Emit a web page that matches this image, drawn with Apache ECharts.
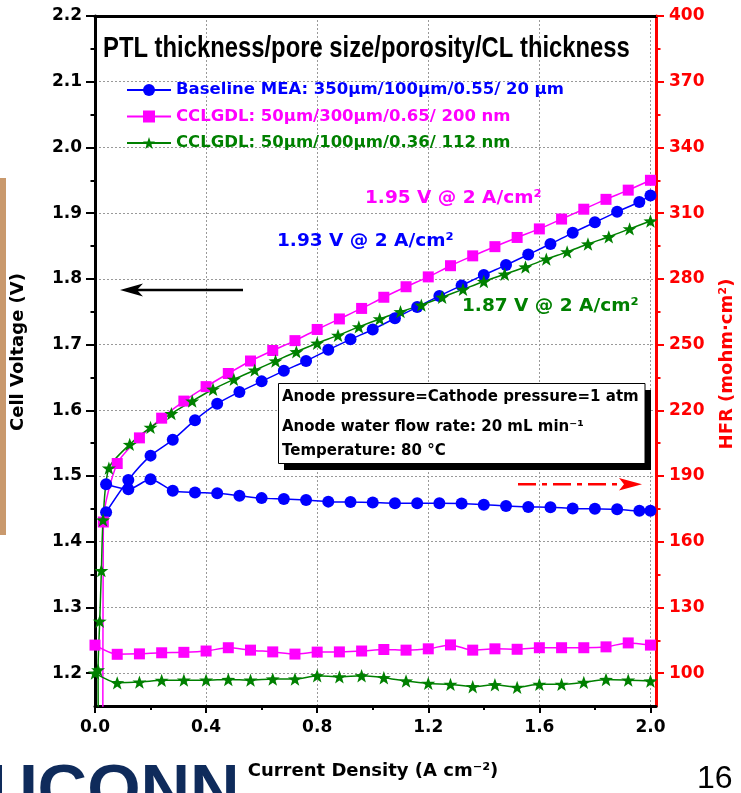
<!DOCTYPE html>
<html><head><meta charset="utf-8">
<script src="https://cdn.jsdelivr.net/npm/echarts/dist/echarts.min.js"></script>
<style>html,body{margin:0;padding:0;background:#fff}#c{width:741px;height:793px}</style>
</head><body><div id="c"></div>
<script>
// ---- tick values ----
const xTicks = [0.0, 0.4, 0.8, 1.2, 1.6, 2.0];
const xMinorTicks = [0.2, 0.6, 1.0, 1.4, 1.8];
const vTicks = [1.2, 1.3, 1.4, 1.5, 1.6, 1.7, 1.8, 1.9, 2.0, 2.1, 2.2];
const vMinorTicks = [1.25, 1.35, 1.45, 1.55, 1.65, 1.75, 1.85, 1.95, 2.05, 2.15];
const hfrTicks = [100, 130, 160, 190, 220, 250, 280, 310, 340, 370, 400];
const hfrMinorTicks = [115, 145, 175, 205, 235, 265, 295, 325, 355, 385];

// ---- legend names ----
const names = [
  'Baseline MEA: 350\u03bcm/100\u03bcm/0.55/ 20 \u03bcm',
  'CCLGDL: 50\u03bcm/300\u03bcm/0.65/ 200 nm',
  'CCLGDL: 50\u03bcm/100\u03bcm/0.36/ 112 nm'
];

// ---- Baseline MEA (blue) ----
const baseJ = [0.04, 0.12, 0.2, 0.28, 0.36, 0.44, 0.52, 0.6, 0.68, 0.76, 0.84, 0.92, 1.0, 1.08, 1.16, 1.24, 1.32, 1.4, 1.48, 1.56, 1.64, 1.72, 1.8, 1.88, 1.96, 2.0];
const baseV = [1.445, 1.494, 1.531, 1.555, 1.585, 1.610, 1.628, 1.644, 1.660, 1.675, 1.692, 1.708, 1.723, 1.740, 1.757, 1.774, 1.790, 1.806, 1.821, 1.837, 1.853, 1.870, 1.886, 1.902, 1.917, 1.927];
const baseHFR = [186.2, 183.9, 188.5, 183.3, 182.5, 182.1, 181.0, 179.9, 179.5, 179.0, 178.3, 178.1, 177.9, 177.6, 177.6, 177.6, 177.4, 176.9, 176.3, 175.9, 175.7, 175.2, 175.0, 174.8, 174.1, 174.1];

// ---- CCLGDL 300um pore (magenta) ----
const magJ = [0.028, 0.03, 0.08, 0.16, 0.24, 0.32, 0.40, 0.48, 0.56, 0.64, 0.72, 0.80, 0.88, 0.96, 1.04, 1.12, 1.20, 1.28, 1.36, 1.44, 1.52, 1.60, 1.68, 1.76, 1.84, 1.92, 2.00];
const magV = [1.00, 1.43, 1.519, 1.558, 1.588, 1.614, 1.636, 1.656, 1.675, 1.691, 1.706, 1.723, 1.739, 1.755, 1.772, 1.788, 1.803, 1.820, 1.835, 1.849, 1.863, 1.876, 1.891, 1.906, 1.921, 1.935, 1.950];
const magHfrJ = [0.0, 0.08, 0.16, 0.24, 0.32, 0.40, 0.48, 0.56, 0.64, 0.72, 0.80, 0.88, 0.96, 1.04, 1.12, 1.20, 1.28, 1.36, 1.44, 1.52, 1.60, 1.68, 1.76, 1.84, 1.92, 2.00];
const magHFR = [112.8, 108.6, 108.8, 109.3, 109.5, 110.1, 111.6, 110.5, 109.7, 108.7, 109.6, 109.7, 110.1, 110.8, 110.5, 111.1, 112.9, 110.5, 111.1, 110.9, 111.6, 111.6, 111.6, 112.0, 113.8, 112.8];

// ---- CCLGDL 100um pore (green) ----
const grnJ = [0.013, 0.011, 0.017, 0.023, 0.029, 0.05, 0.125, 0.2, 0.275, 0.35, 0.425, 0.5, 0.575, 0.65, 0.725, 0.8, 0.875, 0.95, 1.025, 1.1, 1.175, 1.25, 1.325, 1.4, 1.475, 1.55, 1.625, 1.7, 1.775, 1.85, 1.925, 2.0];
const grnV = [1.00, 1.205, 1.279, 1.356, 1.433, 1.512, 1.548, 1.574, 1.595, 1.614, 1.632, 1.647, 1.661, 1.675, 1.689, 1.702, 1.714, 1.727, 1.739, 1.750, 1.760, 1.772, 1.784, 1.796, 1.807, 1.818, 1.830, 1.841, 1.853, 1.864, 1.876, 1.888];
const grnHfrJ = [0.0, 0.08, 0.16, 0.24, 0.32, 0.40, 0.48, 0.56, 0.64, 0.72, 0.80, 0.88, 0.96, 1.04, 1.12, 1.20, 1.28, 1.36, 1.44, 1.52, 1.60, 1.68, 1.76, 1.84, 1.92, 2.00];
const grnHFR = [100.0, 95.6, 95.9, 96.7, 96.8, 96.8, 97.1, 96.8, 97.3, 97.3, 98.8, 98.3, 98.8, 97.9, 96.4, 95.3, 94.9, 93.8, 94.7, 93.5, 94.9, 94.9, 95.8, 97.1, 96.8, 96.4];

const zip = (a, b) => a.map((v, i) => [v, b[i]]);

const BLUE = '#0000FF', MAG = '#FF00FF', GRN = '#008000', RED = '#FF0000';
const FONT = 'DejaVu Sans';
const STAR = 'path://M50,0 L61.8,33.8 L97.6,34.5 L69.1,56.2 L79.4,90.5 L50,70 L20.6,90.5 L30.9,56.2 L2.4,34.5 L38.2,33.8 Z';

function mkSeries(name, j, v, yIdx, color, symbol, size) {
  return {
    name: name, type: 'line', xAxisIndex: 0, yAxisIndex: yIdx,
    data: zip(j, v), symbol: symbol, symbolSize: size, symbolKeepAspect: true,
    smooth: 0.25, clip: true, showAllSymbol: true,
    lineStyle: { color: color, width: 1.5 },
    itemStyle: { color: color, borderWidth: 0 },
    emphasis: { disabled: true }
  };
}

const labelStyle = { fontFamily: FONT, fontWeight: 'bold', fontSize: 17, color: '#000' };
const G = { left: 95, right: 85, top: 16, bottom: 87, containLabel: false };

const option = {
  animation: false,
  grid: [Object.assign({}, G), Object.assign({}, G)],
  legend: {
    orient: 'vertical', left: 126, top: 81, padding: 0,
    itemWidth: 44, itemHeight: 15, itemGap: 8.5,
    textStyle: { fontFamily: FONT, fontWeight: 'bold', fontSize: 16.5, lineHeight: 18 },
    data: [
      { name: names[0], textStyle: { color: BLUE } },
      { name: names[1], textStyle: { color: MAG } },
      { name: names[2], textStyle: { color: GRN } }
    ]
  },
  xAxis: [
    {
      type: 'value', gridIndex: 0, position: 'bottom', min: 0, max: 2.02,
      axisLine: { onZero: false, lineStyle: { color: '#000', width: 3 } },
      axisTick: { customValues: xTicks, length: 7, lineStyle: { color: '#000', width: 2 } },
      axisLabel: Object.assign({ customValues: xTicks, margin: 13, formatter: v => v.toFixed(1) }, labelStyle),
      splitLine: { show: true, lineStyle: { color: '#999', width: 1, type: [2, 2] } }
    },
    {
      type: 'value', gridIndex: 0, position: 'top', min: 0, max: 2.02,
      axisLine: { onZero: false, lineStyle: { color: '#000', width: 3 } },
      axisTick: { show: false }, axisLabel: { show: false }, splitLine: { show: false }
    },
    {
      type: 'value', gridIndex: 1, position: 'bottom', min: 0, max: 2.02,
      axisLine: { show: false, onZero: false },
      axisTick: { customValues: xMinorTicks, length: 4, lineStyle: { color: '#000', width: 2 } },
      axisLabel: { show: false }, splitLine: { show: false }
    }
  ],
  yAxis: [
    {
      type: 'value', gridIndex: 0, position: 'left', min: 1.15, max: 2.2,
      axisLine: { show: true, onZero: false, lineStyle: { color: '#000', width: 3 } },
      axisTick: { show: true, customValues: vTicks, length: 9, lineStyle: { color: '#000', width: 2 } },
      axisLabel: Object.assign({ customValues: vTicks, margin: 13, formatter: v => v.toFixed(1) }, labelStyle),
      splitLine: { show: true, lineStyle: { color: '#999', width: 1, type: [2, 2] } }
    },
    {
      type: 'value', gridIndex: 0, position: 'right', min: 85, max: 400,
      axisLine: { show: true, onZero: false, lineStyle: { color: RED, width: 3 } },
      axisTick: { show: true, customValues: hfrTicks, length: 8, lineStyle: { color: RED, width: 2 } },
      axisLabel: Object.assign({ customValues: hfrTicks, margin: 13 }, labelStyle, { color: RED }),
      splitLine: { show: false }
    },
    {
      type: 'value', gridIndex: 1, position: 'left', min: 1.15, max: 2.2,
      axisLine: { show: false, onZero: false },
      axisTick: { show: true, customValues: vMinorTicks, length: 4.5, lineStyle: { color: '#000', width: 2 } },
      axisLabel: { show: false }, splitLine: { show: false }
    },
    {
      type: 'value', gridIndex: 1, position: 'right', min: 85, max: 400,
      axisLine: { show: false, onZero: false },
      axisTick: { show: true, customValues: hfrMinorTicks, length: 4.5, lineStyle: { color: RED, width: 2 } },
      axisLabel: { show: false }, splitLine: { show: false }
    }
  ],
  series: [
    mkSeries(names[0], baseJ, baseV, 0, BLUE, 'circle', 12),
    mkSeries(names[1], magJ, magV, 0, MAG, 'rect', 11),
    mkSeries(names[2], grnJ, grnV, 0, GRN, STAR, 14),
    mkSeries(names[0], baseJ, baseHFR, 1, BLUE, 'circle', 12),
    mkSeries(names[1], magHfrJ, magHFR, 1, MAG, 'rect', 11),
    mkSeries(names[2], grnHfrJ, grnHFR, 1, GRN, STAR, 14)
  ],
  graphic: [
    { type: 'rect', z: 10, silent: true, shape: { x: 0, y: 178, width: 6, height: 357 }, style: { fill: '#C9996D' } },
    { type: 'text', z: 10, silent: true, x: 103, y: 49, scaleX: 0.794,
      style: { text: 'PTL thickness/pore size/porosity/CL thickness', font: 'bold 30px "Liberation Sans"', fill: '#000', textVerticalAlign: 'middle' } },
    { type: 'text', z: 10, silent: true, x: 365, y: 198,
      style: { text: '1.95 V @ 2 A/cm\u00b2', font: 'bold 18.5px "DejaVu Sans"', fill: MAG, textVerticalAlign: 'middle' } },
    { type: 'text', z: 10, silent: true, x: 277, y: 241,
      style: { text: '1.93 V @ 2 A/cm\u00b2', font: 'bold 18.5px "DejaVu Sans"', fill: BLUE, textVerticalAlign: 'middle' } },
    { type: 'text', z: 10, silent: true, x: 462, y: 306,
      style: { text: '1.87 V @ 2 A/cm\u00b2', font: 'bold 18.5px "DejaVu Sans"', fill: GRN, textVerticalAlign: 'middle' } },
    { type: 'rect', z: 10, silent: true, shape: { x: 284, y: 390, width: 367, height: 80 }, style: { fill: '#000' } },
    { type: 'rect', z: 11, silent: true, shape: { x: 278.5, y: 383.5, width: 366.5, height: 80 }, style: { fill: '#fff', stroke: '#000', lineWidth: 1 } },
    { type: 'text', z: 12, silent: true, x: 282, y: 397,
      style: { text: 'Anode pressure=Cathode pressure=1 atm', font: 'bold 15px "DejaVu Sans"', fill: '#000', textVerticalAlign: 'middle' } },
    { type: 'text', z: 12, silent: true, x: 282, y: 427,
      style: { text: 'Anode water flow rate: 20 mL min\u207b\u00b9', font: 'bold 15px "DejaVu Sans"', fill: '#000', textVerticalAlign: 'middle' } },
    { type: 'text', z: 12, silent: true, x: 282, y: 451,
      style: { text: 'Temperature: 80 \u00b0C', font: 'bold 15px "DejaVu Sans"', fill: '#000', textVerticalAlign: 'middle' } },
    { type: 'line', z: 10, silent: true, shape: { x1: 243, y1: 290, x2: 134, y2: 290 }, style: { stroke: '#000', lineWidth: 2.5 } },
    { type: 'polygon', z: 10, silent: true, shape: { points: [[120, 290], [143, 283.5], [137, 290], [143, 296.5]] }, style: { fill: '#000' } },
    { type: 'line', z: 10, silent: true, shape: { x1: 518, y1: 484.3, x2: 622, y2: 484.3 }, style: { stroke: RED, lineWidth: 2.5, lineDash: [18, 6, 5, 6] } },
    { type: 'polygon', z: 10, silent: true, shape: { points: [[642, 484.3], [619, 478], [624, 484.3], [619, 490.6]] }, style: { fill: RED } },
    { type: 'text', z: 10, silent: true, x: 18, y: 352, rotation: Math.PI / 2,
      style: { text: 'Cell Voltage (V)', font: 'bold 18px "DejaVu Sans"', fill: '#000', textAlign: 'center', textVerticalAlign: 'middle' } },
    { type: 'text', z: 10, silent: true, x: 727, y: 364, rotation: Math.PI / 2,
      style: { text: 'HFR (mohm\u00b7cm\u00b2)', font: 'bold 18px "DejaVu Sans"', fill: RED, textAlign: 'center', textVerticalAlign: 'middle' } },
    { type: 'text', z: 10, silent: true, x: 373, y: 771,
      style: { text: 'Current Density (A cm\u207b\u00b2)', font: 'bold 18px "DejaVu Sans"', fill: '#000', textAlign: 'center', textVerticalAlign: 'middle' } },
    { type: 'text', z: 10, silent: true, x: -12, y: 760, scaleX: 1.04,
      style: { text: 'UCONN', font: 'bold 66px "Liberation Sans"', fill: '#0F2B5B', textVerticalAlign: 'top' } },
    { type: 'text', z: 10, silent: true, x: 697, y: 779,
      style: { text: '16', font: '32px "Liberation Sans"', fill: '#000', textVerticalAlign: 'middle' } }
  ]
};

const chart = echarts.init(document.getElementById('c'), null, { renderer: 'canvas' });
chart.setOption(option);
</script></body></html>
